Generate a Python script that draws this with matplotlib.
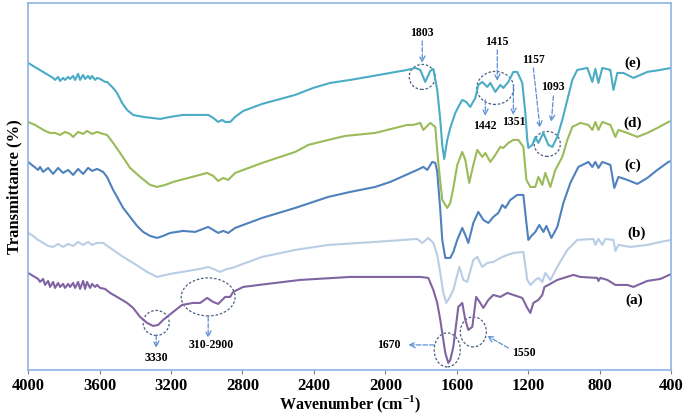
"""FTIR spectra of samples (a)-(e), stacked with offsets."""

import matplotlib

matplotlib.use("Agg", force=True)
import matplotlib.pyplot as plt
from matplotlib.patches import Ellipse

plt.rcParams["font.family"] = ["Liberation Serif", "DejaVu Serif"]
plt.rcParams["font.weight"] = "bold"
plt.rcParams["mathtext.fontset"] = "custom"
plt.rcParams["mathtext.bf"] = "Liberation Serif:bold"
plt.rcParams["mathtext.rm"] = "Liberation Serif:bold"

# Spectra: wavenumber (cm-1) and stacked transmittance (arbitrary units)
wn_e = [4000, 3972, 3944, 3916, 3888, 3860, 3849, 3832, 3821, 3804, 3793, 3776, 3765, 3748,
        3737, 3720, 3709, 3692, 3681, 3664, 3653, 3642, 3625, 3614, 3597, 3569, 3558, 3524,
        3502, 3474, 3446, 3412, 3356, 3261, 3205, 3132, 3037, 2992, 2964, 2936, 2914, 2897,
        2869, 2841, 2796, 2690, 2505, 2404, 2309, 2197, 2068, 1878, 1833, 1805, 1777, 1749,
        1732, 1710, 1693, 1682, 1671, 1654, 1637, 1609, 1586, 1570, 1548, 1525, 1497, 1480,
        1458, 1430, 1413, 1385, 1357, 1340, 1312, 1284, 1262, 1234, 1217, 1206, 1200, 1178,
        1161, 1144, 1116, 1088, 1066, 1038, 1010, 982, 954, 926, 870, 842, 825, 808, 786,
        741, 724, 702, 668, 612, 534, 461, 400]
tr_e = [307, 304, 301, 298, 295, 292, 290, 293, 289, 292, 290, 293, 291, 294,
        290, 296, 290, 295, 291, 294, 291, 294, 290, 292, 291, 288, 288, 282,
        277, 267, 260, 255, 253, 251, 253, 255, 255, 255, 252, 248, 250, 248,
        248, 253, 259, 266, 275, 282, 287, 290, 294, 300, 302, 300, 288, 299,
        301, 280, 250, 225, 211, 230, 242, 257, 265, 270, 268, 263, 272, 285,
        288, 283, 287, 278, 285, 282, 288, 298, 298, 287, 257, 230, 222, 225,
        233, 227, 237, 225, 223, 233, 250, 270, 290, 300, 302, 288, 301, 287, 302,
        300, 280, 297, 297, 292, 298, 300, 302]

wn_d = [4000, 3961, 3933, 3905, 3877, 3849, 3821, 3793, 3765, 3748, 3720, 3692, 3670, 3642,
        3614, 3580, 3558, 3524, 3485, 3429, 3373, 3317, 3278, 3233, 3188, 3082, 2998, 2964,
        2936, 2908, 2880, 2841, 2690, 2505, 2432, 2320, 2225, 2057, 1878, 1844, 1805, 1788,
        1749, 1721, 1704, 1682, 1654, 1637, 1620, 1598, 1570, 1553, 1531, 1508, 1486, 1458,
        1441, 1413, 1385, 1357, 1340, 1312, 1284, 1256, 1228, 1211, 1189, 1161, 1144, 1122,
        1105, 1077, 1049, 1010, 982, 954, 909, 864, 842, 825, 808, 786, 741, 713, 696, 646,
        590, 534, 478, 416, 400]
tr_d = [248, 245, 242, 239, 237, 237, 235, 238, 236, 233, 238, 236, 239, 236,
        238, 236, 235, 227, 217, 202, 193, 185, 183, 185, 188, 193, 197, 194,
        189, 192, 190, 197, 207, 218, 225, 230, 234, 237, 245, 245, 247, 240,
        247, 243, 207, 170, 162, 167, 182, 205, 218, 210, 187, 205, 220, 213,
        217, 208, 215, 223, 222, 227, 230, 230, 223, 190, 183, 183, 193, 185,
        197, 183, 200, 213, 230, 243, 247, 245, 240, 248, 240, 248, 245, 233, 240, 237,
        233, 237, 242, 248, 249]

wn_c = [4000, 3972, 3944, 3933, 3916, 3888, 3860, 3832, 3804, 3776, 3748, 3720, 3692, 3664,
        3642, 3614, 3580, 3558, 3524, 3502, 3468, 3429, 3390, 3356, 3317, 3278, 3244, 3205,
        3132, 3065, 2992, 2964, 2936, 2908, 2880, 2841, 2690, 2505, 2320, 2197, 2057, 1973,
        1822, 1788, 1766, 1738, 1721, 1710, 1693, 1682, 1665, 1637, 1620, 1598, 1570, 1553,
        1536, 1508, 1480, 1452, 1424, 1396, 1368, 1346, 1329, 1301, 1262, 1228, 1211, 1200,
        1183, 1161, 1139, 1116, 1099, 1071, 1038, 1004, 965, 920, 864, 842, 825, 808, 786,
        741, 719, 696, 646, 590, 534, 478, 416, 400]
tr_c = [208, 204, 200, 203, 198, 202, 196, 202, 197, 200, 195, 201, 196, 202,
        199, 201, 198, 193, 180, 173, 162, 153, 144, 138, 134, 132, 134, 137,
        139, 138, 143, 140, 137, 139, 137, 142, 152, 162, 173, 178, 183, 188,
        200, 203, 200, 208, 207, 198, 160, 130, 112, 112, 118, 130, 142, 135,
        127, 147, 158, 150, 147, 153, 157, 165, 162, 170, 175, 175, 147, 130,
        134, 138, 145, 138, 144, 132, 143, 167, 187, 203, 208, 203, 208, 202, 208,
        205, 182, 193, 190, 186, 192, 200, 208, 209]

wn_b = [4000, 3972, 3944, 3916, 3888, 3860, 3832, 3804, 3776, 3748, 3720, 3692, 3664, 3642,
        3614, 3580, 3524, 3468, 3412, 3334, 3278, 3205, 3037, 2992, 2964, 2925, 2886, 2858,
        2690, 2505, 2320, 2057, 1822, 1794, 1760, 1732, 1710, 1693, 1676, 1659, 1642, 1620,
        1586, 1564, 1542, 1508, 1486, 1458, 1430, 1396, 1357, 1318, 1284, 1228, 1206, 1189,
        1161, 1144, 1122, 1105, 1077, 1038, 982, 926, 836, 825, 808, 786, 769, 724, 713,
        696, 629, 534, 461, 400]
tr_b = [137, 134, 130, 127, 124, 123, 126, 123, 126, 124, 128, 125, 128, 125,
        127, 127, 120, 113, 107, 98, 93, 96, 101, 103, 101, 98, 101, 102,
        113, 120, 125, 128, 131, 127, 132, 127, 115, 97, 77, 67, 72, 80,
        103, 90, 88, 110, 113, 103, 107, 108, 112, 115, 117, 118, 90, 85,
        90, 92, 88, 97, 90, 103, 120, 130, 131, 125, 131, 125, 131, 130, 119,
        125, 123, 125, 128, 130]

wn_a = [4000, 3972, 3944, 3933, 3916, 3905, 3888, 3877, 3860, 3849, 3832, 3821, 3804, 3793,
        3776, 3765, 3748, 3737, 3720, 3709, 3692, 3681, 3670, 3653, 3642, 3625, 3614, 3597,
        3569, 3541, 3502, 3446, 3412, 3373, 3334, 3300, 3272, 3244, 3188, 3138, 3076, 3037,
        2998, 2964, 2936, 2897, 2869, 2852, 2796, 2662, 2477, 2197, 1878, 1805, 1760, 1732,
        1710, 1693, 1665, 1648, 1637, 1620, 1592, 1570, 1553, 1536, 1514, 1492, 1469, 1452,
        1424, 1396, 1357, 1318, 1284, 1234, 1206, 1189, 1172, 1144, 1122, 1110, 1088, 1038,
        948, 909, 814, 808, 797, 758, 713, 646, 612, 534, 461, 400]
tr_a = [97, 94, 91, 88, 91, 85, 89, 83, 88, 82, 87, 83, 86, 82,
        86, 83, 87, 82, 88, 81, 89, 81, 88, 82, 86, 83, 85, 82,
        81, 77, 73, 67, 62, 53, 47, 44, 45, 50, 58, 65, 67, 67,
        72, 68, 66, 73, 73, 78, 83, 86, 90, 93, 93, 93, 92, 80,
        67, 50, 17, 7, 10, 23, 63, 67, 50, 40, 43, 73, 67, 62,
        70, 75, 73, 77, 75, 72, 62, 57, 67, 70, 75, 83, 85, 90,
        95, 93, 92, 89, 92, 90, 85, 85, 83, 89, 91, 96]

series = [
    ("(e)", wn_e, tr_e, "#4BACC6", (618, 307)),
    ("(d)", wn_d, tr_d, "#9BBB59", (618, 247)),
    ("(c)", wn_c, tr_c, "#4F81BD", (618, 205)),
    ("(b)", wn_b, tr_b, "#B9CDE5", (596, 137)),
    ("(a)", wn_a, tr_a, "#8064A2", (605, 70)),
]

# Marked bands: label, text position, arrow start, arrow end
band_notes = [
    ("1803", (1794, 337), (1794, 329), (1794, 307)),
    ("1415", (1374, 328), (1374, 320), (1374, 289)),
    ("1442", (1441, 244), (1441, 270), (1441, 254)),
    ("1351", (1284, 248), (1284, 285), (1284, 255)),
    ("1157", (1172, 310), (1172, 302), (1135, 242)),
    ("1093", (1060, 283), (1060, 274), (1071, 248)),
    ("3330", (3283, 12), (3283, 35), (3283, 22)),
    ("310-2900", (2975, 25), (2992, 53), (2992, 32)),
    ("1670", (1980, 25), (1727, 25), (1872, 25)),
    ("1550", (1225, 17), (1312, 22), (1430, 34)),
]
# Dashed rings: centre, width, height
rings = [
    ((1794, 293), 146, 25),
    ((1385, 282), 207, 33),
    ((1094, 226), 146, 25),
    ((3283, 47), 146, 25),
    ((2992, 73), 302, 38),
    ((1654, 20), 146, 34),
    ((1508, 38), 146, 30),
]

frame = "#8EB4E3"
fig, ax = plt.subplots(figsize=(6.85, 4.18), dpi=100)
fig.subplots_adjust(left=0.041, right=0.98, top=0.993, bottom=0.115)

for name, wn, tr, color, pos in series:
    ax.plot(wn, tr, color=color, lw=1.5)
    ax.text(pos[0], pos[1], name, fontsize=11, fontweight="bold", ha="center", va="center")

for text, tpos, start, end in band_notes:
    ax.text(tpos[0], tpos[1], text, fontsize=8.5, fontweight="bold", ha="center", va="center")
    ax.annotate("", xy=end, xytext=start,
                arrowprops=dict(arrowstyle="->", linestyle="--", color="#5B8FD6", lw=0.9,
                                shrinkA=0, shrinkB=0))

for centre, w, h in rings:
    ax.add_patch(Ellipse(centre, w, h, fill=False, edgecolor="#4A5F80", lw=0.9,
                         linestyle=(0, (2, 1.5))))

ax.set_xlim(4000, 400)
ax.set_ylim(0, 367)
ax.set_xticks(range(4000, 399, -400))
ax.set_yticks([])
ax.tick_params(axis="x", direction="out", length=3, color="#808080", labelsize=12, pad=3)
for label in ax.get_xticklabels():
    label.set_fontweight("bold")
for spine in ax.spines.values():
    spine.set_color(frame)
    spine.set_linewidth(1.2)
ax.set_xlabel("Wavenumber (cm$^{\\mathbf{-1}}$)", fontsize=11.5, fontweight="bold", labelpad=0)
ax.set_ylabel("Transmittance (%)", fontsize=12, fontweight="bold", labelpad=4)

fig.savefig("out.png", dpi=100)
plt.close(fig)
